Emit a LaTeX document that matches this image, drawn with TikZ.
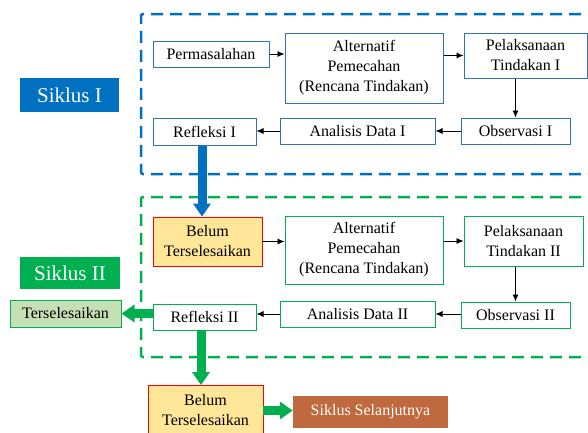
\documentclass[tikz,border=0pt]{standalone}
\usepackage{fontspec}
\setmainfont{Liberation Serif}
\usetikzlibrary{arrows.meta}
\definecolor{sikblue}{RGB}{0,112,192}
\definecolor{boxblue}{RGB}{46,117,182}
\definecolor{sikgreen}{RGB}{0,176,80}
\definecolor{lightgreen}{RGB}{197,224,180}
\definecolor{belumfill}{RGB}{255,230,153}
\definecolor{nextbrown}{RGB}{192,105,62}
\def\bluebox{\node[draw=boxblue,line width=1pt,fill=white,align=center,inner sep=0pt]}
\def\greenbox{\node[draw=sikgreen,line width=1pt,fill=white,align=center,inner sep=0pt]}
\def\belumbox{\node[draw=red,line width=0.8pt,fill=belumfill,align=center,inner sep=0pt]}
\def\siklusbox{\node[text=white,inner sep=0pt,font=\fontsize{21}{25}\selectfont]}
\def\drawthin{\draw[line width=0.8pt,-{Latex[length=7pt,width=6pt]}]}
\def\drawfat{\draw[line width=9pt,-{Triangle[length=13pt,width=17pt]}]}
\def\drawdash{\draw[line width=2.5pt,dash pattern=on 12pt off 7pt,rounded corners=2pt]}

\begin{document}
\begin{tikzpicture}[x=1pt,y=-1pt,font=\fontsize{16}{20}\selectfont]
\useasboundingbox (0,0) rectangle (588,432);
\drawdash[sikblue] (600,14) -| (141,174) -- (600,174);
\drawdash[sikgreen] (600,197) -| (141,357) -- (600,357);
\siklusbox[fill=sikblue,minimum width=99pt,minimum height=34pt] (sik1) at (69.5,95) {Siklus I};
\siklusbox[fill=sikgreen,minimum width=100pt,minimum height=32pt] (sik2) at (70,273) {Siklus II};
\bluebox[minimum width=116pt,minimum height=26pt] (perm1) at (211,54) {Permasalahan};
\bluebox[minimum width=158pt,minimum height=70pt] (alt1) at (364,68) {Alternatif\\Pemecahan\\(Rencana Tindakan)};
\bluebox[minimum width=123pt,minimum height=45pt] (pel1) at (525.5,55.5) {Pelaksanaan\\Tindakan I};
\bluebox[minimum width=109pt,minimum height=26pt] (obs1) at (515.5,131) {Observasi I};
\bluebox[minimum width=155pt,minimum height=26pt] (ana1) at (357.5,131) {Analisis Data I};
\bluebox[minimum width=103pt,minimum height=27pt] (ref1) at (204.5,131.5) {Refleksi I};
\belumbox[minimum width=109pt,minimum height=49pt] (belum1) at (207.5,241.5) {Belum\\Terselesaikan};
\greenbox[minimum width=158pt,minimum height=68pt] (alt2) at (364,250) {Alternatif\\Pemecahan\\(Rencana Tindakan)};
\greenbox[minimum width=119pt,minimum height=50pt] (pel2) at (523.5,241) {Pelaksanaan\\Tindakan II};
\greenbox[minimum width=109pt,minimum height=26pt] (obs2) at (515.5,315) {Observasi II};
\greenbox[minimum width=155pt,minimum height=26pt] (ana2) at (357.5,314) {Analisis Data II};
\greenbox[minimum width=103pt,minimum height=26pt] (ref2) at (204.5,317) {Refleksi II};
\node[draw=sikgreen,line width=1pt,fill=lightgreen,inner sep=0pt,minimum width=111pt,minimum height=27pt] (done) at (65.5,313.5) {Terselesaikan};
\belumbox[minimum width=115pt,minimum height=50pt] (belum2) at (205.5,410.5) {Belum\\Terselesaikan};
\node[fill=nextbrown,text=white,inner sep=0pt,minimum width=155pt,minimum height=32pt] (next) at (370.5,412) {Siklus Selanjutnya};
\drawthin (perm1.east) -- (perm1.east -| alt1.west);
\drawthin (pel1.west -| alt1.east) -- (pel1.west);
\drawthin (obs1.north |- pel1.south) -- (obs1.north);
\drawthin (obs1.west) -- (ana1.east);
\drawthin (ana1.west) -- (ana1.west -| ref1.east);
\drawthin (belum1.east) -- (belum1.east -| alt2.west);
\drawthin (pel2.west -| alt2.east) -- (pel2.west);
\drawthin (obs2.north |- pel2.south) -- (obs2.north);
\drawthin (obs2.west |- ana2.east) -- (ana2.east);
\drawthin (ana2.west) -- (ana2.west -| ref2.east);
\drawfat[sikblue] ([xshift=-2.5pt]ref1.south) -- ([xshift=-2.5pt]ref1.south |- belum1.north);
\drawfat[sikgreen] ([xshift=-3.5pt]ref2.south) -- ([xshift=-3.5pt]ref2.south |- belum2.north);
\drawfat[sikgreen] (ref2.west |- done.east) -- (done.east);
\drawfat[sikgreen] (belum2.east) -- (belum2.east -| next.west);
\end{tikzpicture}
\end{document}
